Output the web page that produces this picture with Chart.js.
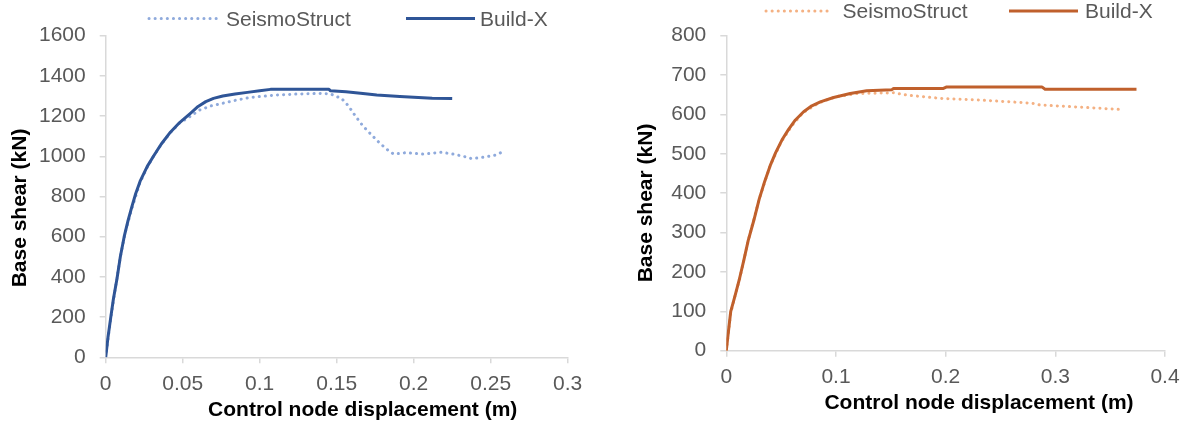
<!DOCTYPE html>
<html><head><meta charset="utf-8">
<script src="https://cdn.jsdelivr.net/npm/chart.js@4.4.1/dist/chart.umd.min.js"></script>
<style>
html,body{margin:0;padding:0;background:#fff;}
#wrap{position:relative;width:1180px;height:421px;overflow:hidden;background:#fff;}
.box{position:absolute;top:0;height:421px;}
</style></head><body>
<div id="wrap">
<div class="box" style="left:0;width:600px"><canvas id="c1"></canvas></div>
<div class="box" style="left:600px;width:600px"><canvas id="c2"></canvas></div>
</div>
<script>
// ---------- data ----------
const seriesNames = ["SeismoStruct", "Build-X"];
const xAxisTitle = "Control node displacement (m)";
const yAxisTitle = "Base shear (kN)";

const leftXTicks = [0, 0.05, 0.1, 0.15, 0.2, 0.25, 0.3];
const leftXTickLabels = ["0", "0.05", "0.1", "0.15", "0.2", "0.25", "0.3"];
const leftYTicks = [0, 200, 400, 600, 800, 1000, 1200, 1400, 1600];
const leftYTickLabels = ["0", "200", "400", "600", "800", "1000", "1200", "1400", "1600"];

const rightXTicks = [0, 0.1, 0.2, 0.3, 0.4];
const rightXTickLabels = ["0", "0.1", "0.2", "0.3", "0.4"];
const rightYTicks = [0, 100, 200, 300, 400, 500, 600, 700, 800];
const rightYTickLabels = ["0", "100", "200", "300", "400", "500", "600", "700", "800"];

// Left chart
const leftBuildX_disp = [0, 0.0015, 0.0033, 0.005, 0.0073, 0.0095, 0.012, 0.0145, 0.017, 0.0195, 0.0223, 0.027, 0.031, 0.036, 0.042, 0.048, 0.055, 0.06, 0.065, 0.07, 0.076, 0.084, 0.092, 0.1, 0.107, 0.145, 0.146, 0.156, 0.167, 0.176, 0.191, 0.212, 0.225];
const leftBuildX_shear = [0, 100, 200, 290, 390, 500, 600, 680, 750, 815, 875, 950, 1000, 1060, 1120, 1168, 1214, 1248, 1272, 1288, 1300, 1310, 1318, 1326, 1333, 1333, 1326, 1321, 1313, 1305, 1297, 1289, 1287];
const leftSeismo_disp = [0, 0.002, 0.004, 0.006, 0.008, 0.01, 0.013, 0.017, 0.0223, 0.027, 0.031, 0.036, 0.042, 0.048, 0.054, 0.061, 0.068, 0.076, 0.085, 0.094, 0.111, 0.125, 0.141, 0.146, 0.15, 0.153, 0.1575, 0.162, 0.167, 0.1727, 0.178, 0.184, 0.187, 0.195, 0.206, 0.218, 0.2257, 0.2333, 0.2377, 0.245, 0.253, 0.2565];
const leftSeismo_shear = [0, 120, 230, 330, 430, 520, 630, 740, 870, 945, 1000, 1058, 1118, 1165, 1194, 1230, 1250, 1264, 1280, 1293, 1305, 1310, 1313, 1310, 1297, 1289, 1252, 1202, 1151, 1106, 1065, 1026, 1011, 1018, 1011, 1020, 1011, 998, 988, 995, 1006, 1018];

// Right chart
const rightBuildX_disp = [0, 0.002, 0.004, 0.008, 0.0117, 0.016, 0.02, 0.025, 0.03, 0.035, 0.04, 0.045, 0.0507, 0.0568, 0.063, 0.0705, 0.078, 0.0857, 0.0978, 0.113, 0.128, 0.151, 0.1525, 0.198, 0.201, 0.2877, 0.2907, 0.374];
const rightBuildX_shear = [0, 50, 99, 140, 179, 230, 280, 330, 385, 430, 470, 503, 535, 562, 586, 607, 622, 632, 643, 653, 660, 663, 666, 666, 670, 670, 664, 664];
const rightSeismo_disp = [0, 0.004, 0.008, 0.012, 0.02, 0.03, 0.04, 0.05, 0.06, 0.07, 0.085, 0.1, 0.119, 0.1525, 0.165, 0.195, 0.2345, 0.271, 0.28, 0.286, 0.3195, 0.3575];
const rightSeismo_shear = [0, 95, 140, 180, 280, 385, 470, 530, 572, 605, 630, 645, 653, 655, 649, 641, 636, 630, 628, 624, 619, 613];

// ---------- helpers ----------
const FONT = "'Liberation Sans', Arial, Helvetica, sans-serif";
const pts = (xs, ys) => xs.map((x, i) => ({x: x, y: ys[i]}));

const decorPlugin = {
  id: 'decor',
  afterDraw(chart, args, opts) {
    const ctx = chart.ctx;
    ctx.save();
    (opts.legend || []).forEach(it => {
      const ds = chart.data.datasets[it.dataset];
      ctx.save();
      ctx.strokeStyle = ds.borderColor;
      ctx.lineWidth = ds.borderWidth;
      ctx.lineCap = ds.borderCapStyle || 'butt';
      ctx.setLineDash(ds.borderDash || []);
      ctx.beginPath();
      ctx.moveTo(it.x0, it.lineY);
      ctx.lineTo(it.x1, it.lineY);
      ctx.stroke();
      ctx.restore();
      ctx.fillStyle = '#595959';
      ctx.font = '21px ' + FONT;
      ctx.textAlign = 'left';
      ctx.textBaseline = 'middle';
      ctx.fillText(ds.label, it.tx, it.ty);
    });
    ctx.fillStyle = '#000';
    ctx.font = 'bold 21px ' + FONT;
    ctx.textAlign = 'center';
    ctx.textBaseline = 'middle';
    if (opts.xTitle) ctx.fillText(opts.xTitle.text, opts.xTitle.x, opts.xTitle.y);
    if (opts.yTitle) {
      ctx.save();
      ctx.translate(opts.yTitle.x, opts.yTitle.y);
      ctx.rotate(-Math.PI / 2);
      ctx.fillText(opts.yTitle.text, 0, 0);
      ctx.restore();
    }
    ctx.restore();
  }
};

function axisCommon() {
  return {
    grid: {display: true, drawOnChartArea: false, drawTicks: true, tickLength: 6, color: '#D9D9D9', lineWidth: 1.5},
    border: {display: true, color: '#D9D9D9', width: 1.5}
  };
}

function makeChart(id, cfg) {
  return new Chart(document.getElementById(id), {
    type: 'line',
    data: {
      datasets: [
        {label: seriesNames[0], data: pts(cfg.sx, cfg.sy), borderColor: cfg.seisColor, borderWidth: cfg.dotWidth,
         borderDash: [0.1, 6], borderCapStyle: 'round', pointRadius: 0, tension: 0, fill: false, order: 1},
        {label: seriesNames[1], data: pts(cfg.bx, cfg.by), borderColor: cfg.buildColor, borderWidth: 3,
         pointRadius: 0, tension: 0, fill: false, order: 0, borderJoinStyle: 'round'}
      ]
    },
    options: {
      responsive: true, maintainAspectRatio: false, animation: false,
      layout: {padding: cfg.padding},
      plugins: {legend: {display: false}, tooltip: {enabled: false}, decor: cfg.decor},
      scales: {
        x: Object.assign(axisCommon(), {
          type: 'linear', min: cfg.xTicks[0], max: cfg.xTicks[cfg.xTicks.length - 1],
          afterBuildTicks: s => { s.ticks = cfg.xTicks.map(v => ({value: v})); },
          afterFit: s => { s.height = cfg.xHeight; },
          ticks: {color: '#595959', font: {size: 21, family: FONT}, padding: 8, maxRotation: 0, autoSkip: false,
                  callback: (v, i) => cfg.xLabels[i]}
        }),
        y: Object.assign(axisCommon(), {
          type: 'linear', min: cfg.yTicks[0], max: cfg.yTicks[cfg.yTicks.length - 1],
          afterBuildTicks: s => { s.ticks = cfg.yTicks.map(v => ({value: v})); },
          afterFit: s => { s.width = cfg.yWidth; },
          ticks: {color: '#595959', font: {size: 21, family: FONT}, padding: 14, autoSkip: false,
                  callback: (v, i) => cfg.yLabels[i]}
        })
      }
    },
    plugins: [decorPlugin]
  });
}

makeChart('c1', {
  sx: leftSeismo_disp, sy: leftSeismo_shear, bx: leftBuildX_disp, by: leftBuildX_shear,
  seisColor: '#8FAADC', buildColor: '#2F5597', dotWidth: 3,
  xTicks: leftXTicks, xLabels: leftXTickLabels, yTicks: leftYTicks, yLabels: leftYTickLabels,
  padding: {top: 35.7, left: 0, right: 32.3, bottom: 0}, xHeight: 63.7, yWidth: 105.7,
  decor: {
    legend: [
      {dataset: 0, x0: 149, x1: 217, lineY: 18.5, tx: 226, ty: 20},
      {dataset: 1, x0: 406, x1: 475, lineY: 18.5, tx: 480, ty: 20}
    ],
    xTitle: {text: xAxisTitle, x: 362.7, y: 410},
    yTitle: {text: yAxisTitle, x: 20, y: 208}
  }
});

makeChart('c2', {
  sx: rightSeismo_disp, sy: rightSeismo_shear, bx: rightBuildX_disp, by: rightBuildX_shear,
  seisColor: '#F4B183', buildColor: '#C0602C', dotWidth: 3,
  xTicks: rightXTicks, xLabels: rightXTickLabels, yTicks: rightYTicks, yLabels: rightYTickLabels,
  padding: {top: 35.7, left: 0, right: 35, bottom: 0}, xHeight: 70.3, yWidth: 126.3,
  decor: {
    legend: [
      {dataset: 0, x0: 166, x1: 233, lineY: 11, tx: 242.6, ty: 12.5},
      {dataset: 1, x0: 409, x1: 478, lineY: 11, tx: 485, ty: 12.5}
    ],
    xTitle: {text: xAxisTitle, x: 379, y: 403},
    yTitle: {text: yAxisTitle, x: 46, y: 203}
  }
});
</script>
</body></html>
